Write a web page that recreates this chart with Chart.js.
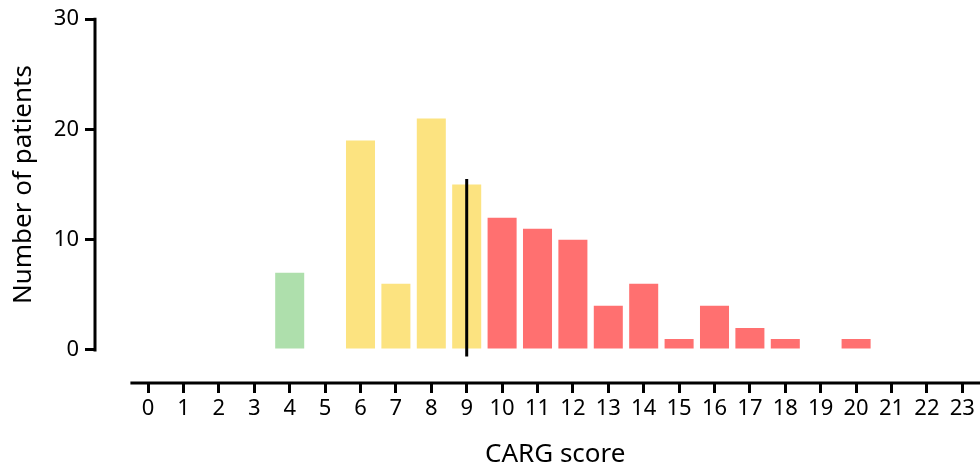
<!DOCTYPE html>
<html>
<head>
<meta charset="utf-8">
<script src="https://cdn.jsdelivr.net/npm/chart.js@4/dist/chart.umd.min.js"></script>
<style>
  html, body { margin: 0; padding: 0; background: #fff; }
  #wrap { width: 980px; height: 470px; }
</style>
</head>
<body>
<div id="wrap"><canvas id="cargChart"></canvas></div>
<script>
// CARG score distribution
const scores = [0, 1, 2, 3, 4, 5, 6, 7, 8, 9, 10, 11, 12, 13, 14, 15, 16, 17, 18, 19, 20, 21, 22, 23];
const patients = [0, 0, 0, 0, 7, 0, 19, 6, 21, 15, 12, 11, 10, 4, 6, 1, 4, 2, 1, 0, 1, 0, 0, 0];
const yTicks = [0, 10, 20, 30];
const cutoffX = [9, 9];
const cutoffY = [-0.6, 15.5];

const fontFam = "'Noto Sans', sans-serif";

function corPorScore(s) {
    if (s <= 5) return '#aedfac';
    if (s <= 9) return '#fce380';
    return '#ff7070';
}

// axis lines and titles drawn from scale values
const eixosPlugin = {
    id: 'eixos',
    afterDraw(chart) {
        const ctx = chart.ctx;
        const x = chart.scales.x;
        const y = chart.scales.y;
        ctx.save();
        ctx.strokeStyle = '#000';
        ctx.lineWidth = 3;
        ctx.lineCap = 'butt';
        // y axis line
        ctx.beginPath();
        ctx.moveTo(x.left, y.getPixelForValue(30) - 1.5);
        ctx.lineTo(x.left, y.getPixelForValue(0) + 1.5);
        ctx.stroke();
        // x axis line
        ctx.beginPath();
        ctx.moveTo(x.getPixelForValue(-0.5), y.bottom);
        ctx.lineTo(x.getPixelForValue(23.5), y.bottom);
        ctx.stroke();

        ctx.fillStyle = '#000';
        ctx.textAlign = 'center';
        ctx.textBaseline = 'middle';
        ctx.font = '26px ' + fontFam;
        ctx.fillText('CARG score', x.getPixelForValue(11.5), 455);

        ctx.translate(24, y.getPixelForValue(15));
        ctx.rotate(-Math.PI / 2);
        ctx.fillText('Number of patients', 0, 0);
        ctx.restore();
    }
};

const ctx = document.getElementById('cargChart').getContext('2d');
const chart = new Chart(ctx, {
    data: {
        datasets: [{
            type: 'bar',
            data: scores.map((s, i) => ({ x: s, y: patients[i] })),
            backgroundColor: scores.map(corPorScore),
            borderWidth: 0,
            categoryPercentage: 1,
            barPercentage: 0.82,
            order: 2
        }, {
            type: 'line',
            data: cutoffX.map((v, i) => ({ x: v, y: cutoffY[i] })),
            borderColor: '#000',
            borderWidth: 3,
            pointRadius: 0,
            order: 1
        }]
    },
    plugins: [eixosPlugin],
    options: {
        responsive: true,
        maintainAspectRatio: false,
        animation: false,
        layout: { padding: { top: 18, right: 0, left: 0, bottom: 0 } },
        plugins: {
            legend: { display: false },
            tooltip: { enabled: false }
        },
        scales: {
            x: {
                type: 'linear',
                min: -1.5,
                max: 23.5,
                offset: false,
                border: { display: false },
                grid: {
                    offset: false,
                    drawOnChartArea: false,
                    drawTicks: true,
                    tickLength: 10,
                    color: '#000',
                    lineWidth: 3
                },
                afterBuildTicks: (scale) => {
                    scale.ticks = scores.map(v => ({ value: v }));
                },
                ticks: {
                    color: '#000',
                    padding: 3,
                    maxRotation: 0,
                    autoSkip: false,
                    font: { family: fontFam, size: 22 }
                },
                afterFit: (scale) => { scale.height = 87; }
            },
            y: {
                min: -3,
                max: 30,
                border: { display: false },
                grid: {
                    drawOnChartArea: false,
                    drawTicks: true,
                    tickLength: 10,
                    color: '#000',
                    lineWidth: 3
                },
                afterBuildTicks: (scale) => {
                    scale.ticks = yTicks.map(v => ({ value: v }));
                },
                ticks: {
                    color: '#000',
                    padding: 6,
                    font: { family: fontFam, size: 22 }
                },
                afterFit: (scale) => { scale.width = 95; }
            }
        }
    }
});
</script>
</body>
</html>
